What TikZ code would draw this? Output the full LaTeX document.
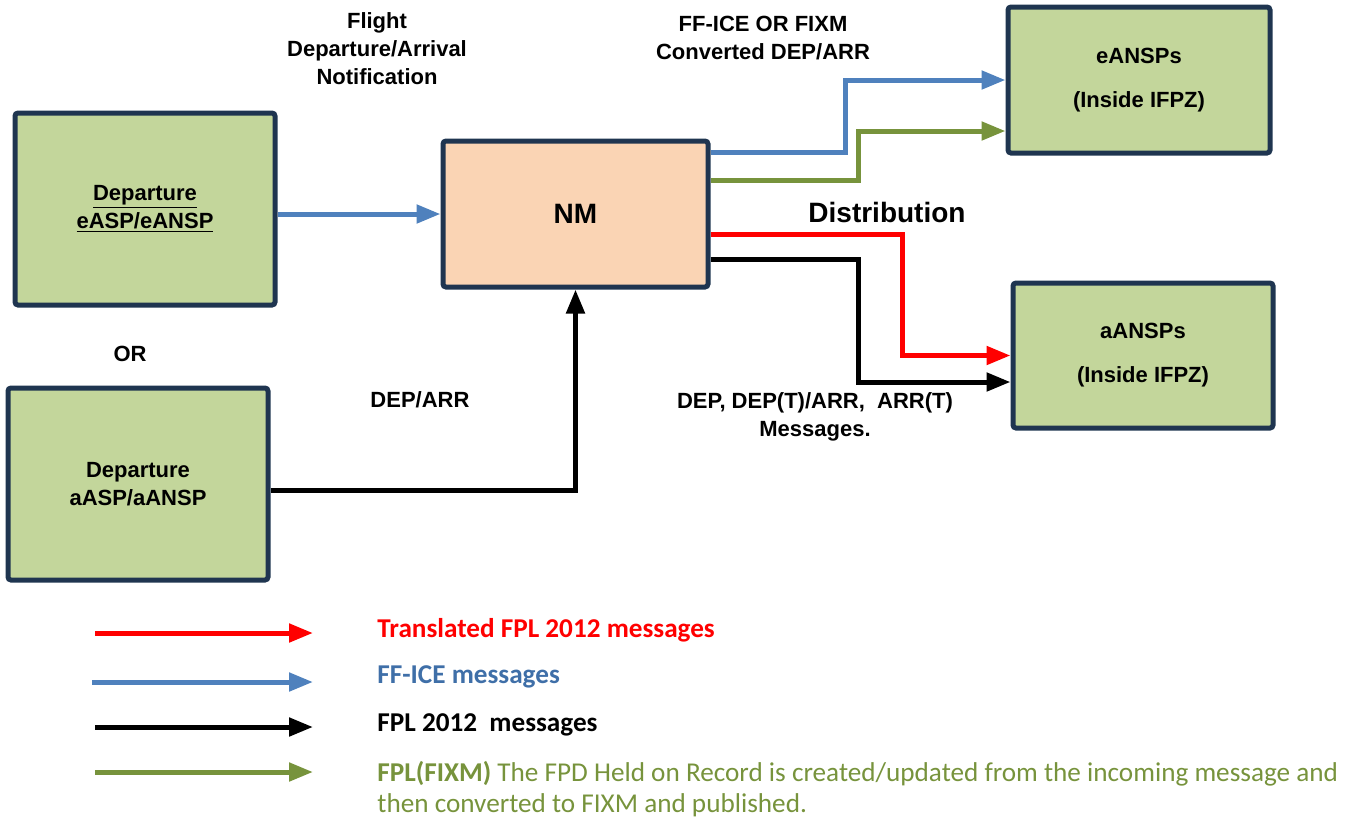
\documentclass[tikz,border=0pt]{standalone}
\usepackage{fontspec}
\setmainfont{Liberation Sans}
\newfontfamily\legfont{Carlito}
\usepackage{tikz}
\usetikzlibrary{arrows.meta}
\definecolor{boxgreen}{HTML}{C3D69B}
\definecolor{boxpeach}{HTML}{FAD4B4}
\definecolor{boxline}{HTML}{1F3550}
\definecolor{msgblue}{HTML}{4F81BD}
\definecolor{msggreen}{HTML}{77933C}
\definecolor{legblue}{HTML}{3F6FA8}
\tikzset{
  unit/.style = {draw=boxline, line width=2.5pt, rounded corners=1.5pt, fill=boxgreen,
    align=center, font=\fontsize{11}{14}\selectfont\bfseries},
  nmbox/.style = {unit, fill=boxpeach},
  lbl/.style = {align=center, font=\fontsize{11}{14}\selectfont\bfseries},
  msg/.style = {line width=2.5pt, -{Triangle[length=12pt,width=9pt]}},
  legtxt/.style = {anchor=west, align=left, inner sep=2pt, font=\legfont\fontsize{13.6}{15.5}\selectfont},
}
\begin{document}
\begin{tikzpicture}[x=0.5pt,y=-0.5pt]
\useasboundingbox (0,0) rectangle (1360,821);
% units
\node[unit, minimum width=130pt, minimum height=96pt] (depE) at (145,209)
  {\underline{Departure}\\\underline{eASP/eANSP}};
\node[unit, minimum width=130pt, minimum height=96pt] (depA) at (138,484)
  {Departure\\aASP/aANSP};
\node[nmbox, minimum width=132.5pt, minimum height=73pt, font=\fontsize{14}{16}\selectfont\bfseries] (nm) at (575.5,214) {NM};
\node[unit, minimum width=131pt, minimum height=73pt] (eansp) at (1139,80)
  {eANSPs\\[8pt](Inside IFPZ)};
\node[unit, minimum width=130pt, minimum height=72.5pt] (aansp) at (1143,355.5)
  {aANSPs\\[8pt](Inside IFPZ)};

% labels
\node[lbl] (flight) at (377,49) {Flight\\Departure/Arrival\\Notification};
\node[lbl] (conv) at (763,38) {FF-ICE OR FIXM\\Converted DEP/ARR};
\node[lbl, font=\fontsize{14}{16}\selectfont\bfseries] (dist) at (887,212) {Distribution};
\node[lbl] (or) at (130,354) {OR};
\node[lbl] (deparr) at (420,400) {DEP/ARR};
\node[lbl] (depmsg) at (815,417) {DEP, DEP(T)/ARR,\ \ ARR(T)\\Messages.};

% messages
\draw[msg, msgblue] (nm.west -| depE.east) -- (nm.west);
\draw[msg] ([yshift=-3pt]depA.east) -| (nm.south);
\draw[msg, msgblue] ([yshift=-7pt]nm.north east) -| (845,80) -- (eansp.west);
\draw[msg, msggreen] ([yshift=-21pt]nm.north east) -| (858,131) -- ([yshift=-25.5pt]eansp.west);
\draw[msg, red] ([yshift=-48pt]nm.north east) -| (902,355.5) -- (aansp.west);
\draw[msg] ([yshift=-60.5pt]nm.north east) -| (858,382) -- ([yshift=-13.25pt]aansp.west);

% legend
\node[legtxt, text=red] (leg1) at (373,630) {\bfseries Translated FPL 2012 messages};
\node[legtxt, text=legblue] (leg2) at (373,677) {\bfseries FF-ICE messages};
\node[legtxt] (leg3) at (373,725) {\bfseries FPL 2012\ \ messages};
\node[legtxt, text=msggreen, anchor=north west] (leg4) at (373,757)
  {\textbf{FPL(FIXM)} The FPD Held on Record is created/updated from the incoming message and\\then converted to FIXM and published.};
\coordinate (r1) at (95,633);
\coordinate (r2) at (92,682);
\coordinate (r3) at (95,727);
\coordinate (r4) at (95,772);
\draw[msg, red] (r1) -- (r1 -| 313,0);
\draw[msg, msgblue] (r2) -- (r2 -| 313,0);
\draw[msg] (r3) -- (r3 -| 313,0);
\draw[msg, msggreen] (r4) -- (r4 -| 313,0);
\end{tikzpicture}
\end{document}
